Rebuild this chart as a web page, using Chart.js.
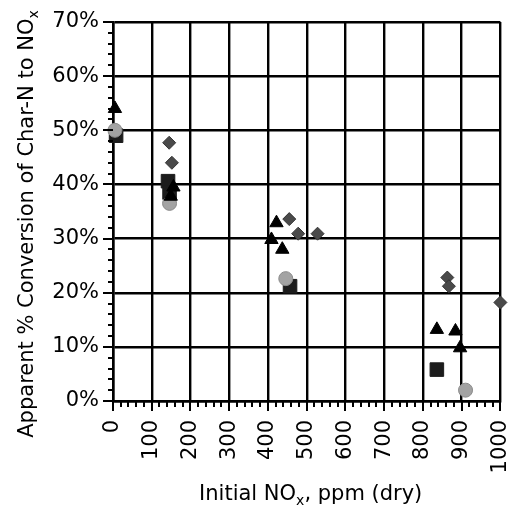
<!DOCTYPE html>
<html><head><meta charset="utf-8">
<script src="https://cdn.jsdelivr.net/npm/chart.js@4.4.1/dist/chart.umd.min.js"></script>
<style>html,body{margin:0;padding:0;background:#fff}#wrap{width:511px;height:512px}</style>
</head><body><div id="wrap"><canvas id="c"></canvas></div>
<script>
// ---- data ----
const triangleX = [5, 156, 149, 409, 422, 437, 836, 884, 896];
const triangleY = [54, 39.5, 37.8, 29.8, 32.9, 28.0, 13.2, 12.9, 9.8];
const squareX = [8, 142, 146, 457, 836];
const squareY = [49, 40.6, 38.5, 21.2, 5.8];
const circleX = [5, 146, 446, 910];
const circleY = [50, 36.5, 22.6, 2.0];
const diamondX = [145, 152, 455, 478, 528, 863, 867, 1000];
const diamondY = [47.7, 44.0, 33.6, 30.9, 30.9, 22.8, 21.2, 18.2];
const xTickLabels = ['0','100','200','300','400','500','600','700','800','900','1000'];
const yTickLabels = ['0%','10%','20%','30%','40%','50%','60%','70%'];
const xTitleParts = ['Initial NO', 'x', ', ppm (dry)'];
const yTitleParts = ['Apparent % Conversion of Char-N to NO', 'x', ''];

const FONT = 'DejaVu Sans';
const toPts = (xs, ys) => xs.map((x, i) => ({x: x, y: ys[i]}));

function drawRich(ctx, parts, cx, cy) {
  const big = '21px "' + FONT + '"', small = '14px "' + FONT + '"';
  ctx.font = big; const w0 = ctx.measureText(parts[0]).width;
  ctx.font = small; const w1 = ctx.measureText(parts[1]).width;
  ctx.font = big; const w2 = ctx.measureText(parts[2]).width;
  let x = cx - (w0 + w1 + w2) / 2;
  ctx.textAlign = 'left'; ctx.textBaseline = 'alphabetic'; ctx.fillStyle = '#000';
  ctx.font = big; ctx.fillText(parts[0], x, cy); x += w0;
  ctx.font = small; ctx.fillText(parts[1], x, cy + 5); x += w1;
  ctx.font = big; ctx.fillText(parts[2], x, cy);
}

const extras = {
  id: 'extras',
  afterDraw(chart) {
    const ctx = chart.ctx, xs = chart.scales.x, ys = chart.scales.y;
    ctx.save();
    ctx.strokeStyle = '#000'; ctx.lineWidth = 2;
    ctx.beginPath();
    for (let v = 0; v <= 1000; v += 20) {
      const px = Math.round(xs.getPixelForValue(v));
      const len = v % 100 === 0 ? 10 : 6;
      ctx.moveTo(px, ys.bottom); ctx.lineTo(px, ys.bottom + len);
    }
    for (let v = 0; v <= 70; v += 2) {
      const py = Math.round(ys.getPixelForValue(v));
      const len = v % 10 === 0 ? 10 : 5;
      ctx.moveTo(xs.left, py); ctx.lineTo(xs.left - len, py);
    }
    ctx.stroke();
    drawRich(ctx, xTitleParts, (xs.left + xs.right) / 2 + 4, 500);
    ctx.translate(33, 224); ctx.rotate(-Math.PI / 2);
    drawRich(ctx, yTitleParts, 0, 0);
    ctx.restore();
  }
};

new Chart(document.getElementById('c'), {
  type: 'scatter',
  data: {
    datasets: [
      {label: 'circle', data: toPts(circleX, circleY), pointStyle: 'circle', pointRadius: 7,
        backgroundColor: '#a3a3a3', borderColor: '#8a8a8a', borderWidth: 1, order: 2, clip: false},
      {label: 'square', data: toPts(squareX, squareY), pointStyle: 'rect', pointRadius: 9.6,
        backgroundColor: '#1c1c1c', borderColor: '#1c1c1c', borderWidth: 1, order: 3, clip: false},
      {label: 'triangle', data: toPts(triangleX, triangleY), pointStyle: 'triangle', pointRadius: 7.7,
        backgroundColor: '#000', borderColor: '#000', borderWidth: 1, order: 1, clip: false},
      {label: 'diamond', data: toPts(diamondX, diamondY), pointStyle: 'rectRot', pointRadius: 6.5,
        backgroundColor: '#4a4a4a', borderColor: '#333', borderWidth: 1, order: 0, clip: false}
    ]
  },
  options: {
    responsive: true, maintainAspectRatio: false, animation: false,
    layout: {padding: {top: 22, right: 10, left: 0, bottom: 0}},
    plugins: {legend: {display: false}, tooltip: {enabled: false}},
    scales: {
      x: {
        type: 'linear', min: 0, max: 1000,
        afterFit: s => { s.height = 111; s.paddingLeft = 0; s.paddingRight = 0; },
        border: {display: true, color: '#000', width: 2.5},
        grid: {color: '#000', lineWidth: 2.4, drawTicks: false},
        ticks: {stepSize: 100, autoSkip: false, maxRotation: 90, minRotation: 90, padding: 19,
          color: '#000', font: {family: FONT, size: 21},
          callback: v => xTickLabels[Math.round(v / 100)]}
      },
      y: {
        type: 'linear', min: 0, max: 70,
        afterFit: s => { s.width = 113; s.paddingTop = 0; s.paddingBottom = 0; },
        border: {display: true, color: '#000', width: 2.5},
        grid: {color: '#000', lineWidth: 2.4, drawTicks: false},
        ticks: {stepSize: 10, padding: 14, color: '#000', font: {family: FONT, size: 21},
          callback: v => yTickLabels[Math.round(v / 10)]}
      }
    }
  },
  plugins: [extras]
});
</script></body></html>
